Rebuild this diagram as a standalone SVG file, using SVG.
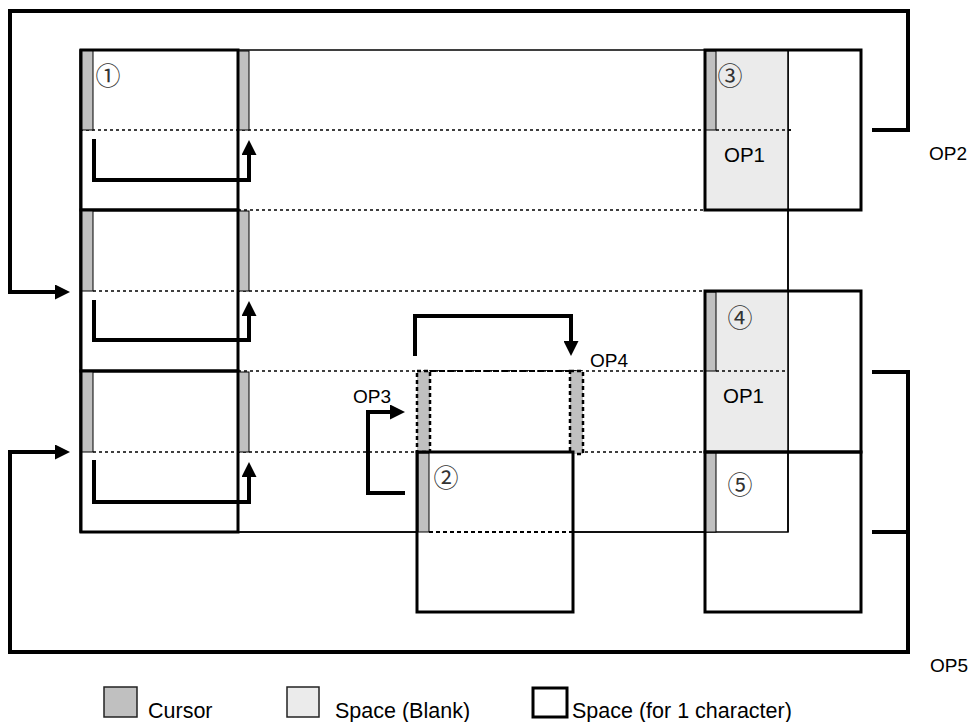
<svg xmlns="http://www.w3.org/2000/svg" width="974" height="722" viewBox="0 0 974 722">
<style>
.thin{fill:none;stroke:#000;stroke-width:1.5}
.thick{fill:none;stroke:#000;stroke-width:3}
.dot{fill:none;stroke:#000;stroke-width:1.5;stroke-dasharray:3 3}
.cur{fill:#c0c0c0;stroke:#000;stroke-width:1}
.blank{fill:#ebebeb;stroke:none}
.conn{fill:none;stroke:#000;stroke-width:4;stroke-linejoin:miter}
.lbl{font-family:"Liberation Sans",Arial,sans-serif;font-size:19px;fill:#000}
.op1{font-family:"Liberation Sans",Arial,sans-serif;font-size:20.5px;fill:#000}
.leg{font-family:"Liberation Sans",Arial,sans-serif;font-size:21.5px;fill:#000}
.num{font-family:"Noto Sans CJK JP","DejaVu Sans",sans-serif;font-size:25px;fill:#333;text-anchor:middle;dominant-baseline:central}
</style>
<defs>
<marker id="ah" markerUnits="userSpaceOnUse" viewBox="0 0 15 15" refX="0" refY="7.5" markerWidth="15" markerHeight="15" orient="auto">
<path d="M0,0 L15,7.5 L0,15 z" fill="#000"/>
</marker>
</defs>
<rect width="974" height="722" fill="#fff"/>

<g id="frame">
<rect class="thin" x="80" y="50" width="708" height="482"/>
<line class="dot" x1="80" y1="130" x2="794" y2="130"/>
<line class="dot" x1="238" y1="210" x2="705" y2="210"/>
<line class="dot" x1="93" y1="291" x2="705" y2="291"/>
<line class="dot" x1="238" y1="371" x2="788" y2="371"/>
<line class="dot" x1="93" y1="452" x2="705" y2="452"/>
</g>

<g id="node1">
<rect class="thick" x="81" y="50" width="157" height="160"/>
<rect class="cur" x="82" y="51" width="11" height="79"/>
<rect class="cur" x="239" y="51" width="10" height="79"/>
<text class="num" x="108" y="74">①</text>
</g>
<g id="row2">
<rect class="thick" x="81" y="210" width="157" height="161"/>
<rect class="cur" x="82" y="211" width="11" height="80"/>
<rect class="cur" x="239" y="211" width="10" height="80"/>
</g>
<g id="row3">
<rect class="thick" x="81" y="371" width="157" height="161"/>
<rect class="cur" x="82" y="372" width="11" height="80"/>
<rect class="cur" x="239" y="372" width="10" height="80"/>
</g>

<g id="node3">
<rect class="blank" x="705" y="50" width="83" height="160"/>
<rect class="cur" x="705" y="51" width="11" height="79"/>
<line class="dot" x1="716" y1="130" x2="794" y2="130"/>
<rect class="thick" x="705" y="50" width="156" height="160"/>
<line class="thin" x1="788" y1="50" x2="788" y2="210"/>
<text class="num" x="730" y="74">③</text>
<text class="op1" x="724" y="162">OP1</text>
</g>

<g id="node4">
<rect class="blank" x="705" y="291" width="83" height="161"/>
<rect class="cur" x="705" y="292" width="11" height="79"/>
<line class="dot" x1="716" y1="371" x2="788" y2="371"/>
<rect class="thick" x="705" y="291" width="156" height="161"/>
<line class="thin" x1="788" y1="210" x2="788" y2="452"/>
<text class="num" x="740" y="316">④</text>
<text class="op1" x="723" y="403">OP1</text>
</g>

<g id="node5">
<rect class="cur" x="705" y="453" width="11" height="79"/>
<rect class="thick" x="705" y="452" width="156" height="160"/>
<line class="thin" x1="788" y1="452" x2="788" y2="532"/>
<text class="num" x="740" y="483">⑤</text>
</g>

<g id="ghost">
<rect fill="#fff" x="417" y="371" width="166" height="81"/>
<line class="dot" x1="417" y1="371" x2="583" y2="371"/>
<rect x="417" y="371" width="13" height="81" fill="#c0c0c0" stroke="#000" stroke-width="2.5" stroke-dasharray="4 3"/>
<rect x="570" y="371" width="13" height="83" fill="#c0c0c0" stroke="#000" stroke-width="2.5" stroke-dasharray="4 3"/>
<line x1="430" y1="371" x2="570" y2="371" stroke="#000" stroke-width="2" stroke-dasharray="6 3"/>
</g>

<g id="node2">
<rect fill="#fff" x="417" y="452" width="156" height="160"/>
<rect class="cur" x="418" y="453" width="11" height="79"/>
<line x1="429" y1="532" x2="573" y2="532" stroke="#000" stroke-width="2" stroke-dasharray="4 3"/>
<line class="thin" x1="238" y1="532" x2="417" y2="532"/>
<line class="thin" x1="573" y1="532" x2="705" y2="532"/>
<rect class="thick" x="417" y="452" width="156" height="160"/>
<text class="num" x="446" y="476">②</text>
</g>

<g id="connectors">
<path class="conn" d="M94,139 V180 H249 V155" marker-end="url(#ah)"/>
<path class="conn" d="M94,300 V340 H249 V316" marker-end="url(#ah)"/>
<path class="conn" d="M94,460 V502 H249 V477" marker-end="url(#ah)"/>
<path class="conn" d="M872,130 H908 V11 H10 V292 H55" marker-end="url(#ah)"/>
<path class="conn" d="M872,372 H908 V652 H10 V452 H55" marker-end="url(#ah)"/>
<path class="conn" d="M872,532 H908"/>
<path class="conn" d="M405,493 H368 V412 H390" marker-end="url(#ah)"/>
<path class="conn" d="M415,356 V316 H571 V341" marker-end="url(#ah)"/>
</g>

<g id="labels">
<text class="lbl" x="929" y="160">OP2</text>
<text class="lbl" x="353" y="403">OP3</text>
<text class="lbl" x="590" y="367">OP4</text>
<text class="lbl" x="930" y="672">OP5</text>
</g>

<g id="legend">
<rect x="104" y="687" width="33" height="30" fill="#c0c0c0" stroke="#222" stroke-width="1.5"/>
<text class="leg" x="148" y="718">Cursor</text>
<rect x="287" y="687" width="32" height="30" fill="#ebebeb" stroke="#222" stroke-width="1.5"/>
<text class="leg" x="335" y="718">Space (Blank)</text>
<rect x="533" y="688" width="34" height="29" fill="#fff" stroke="#000" stroke-width="3"/>
<text class="leg" x="572" y="718">Space (for 1 character)</text>
</g>
</svg>
